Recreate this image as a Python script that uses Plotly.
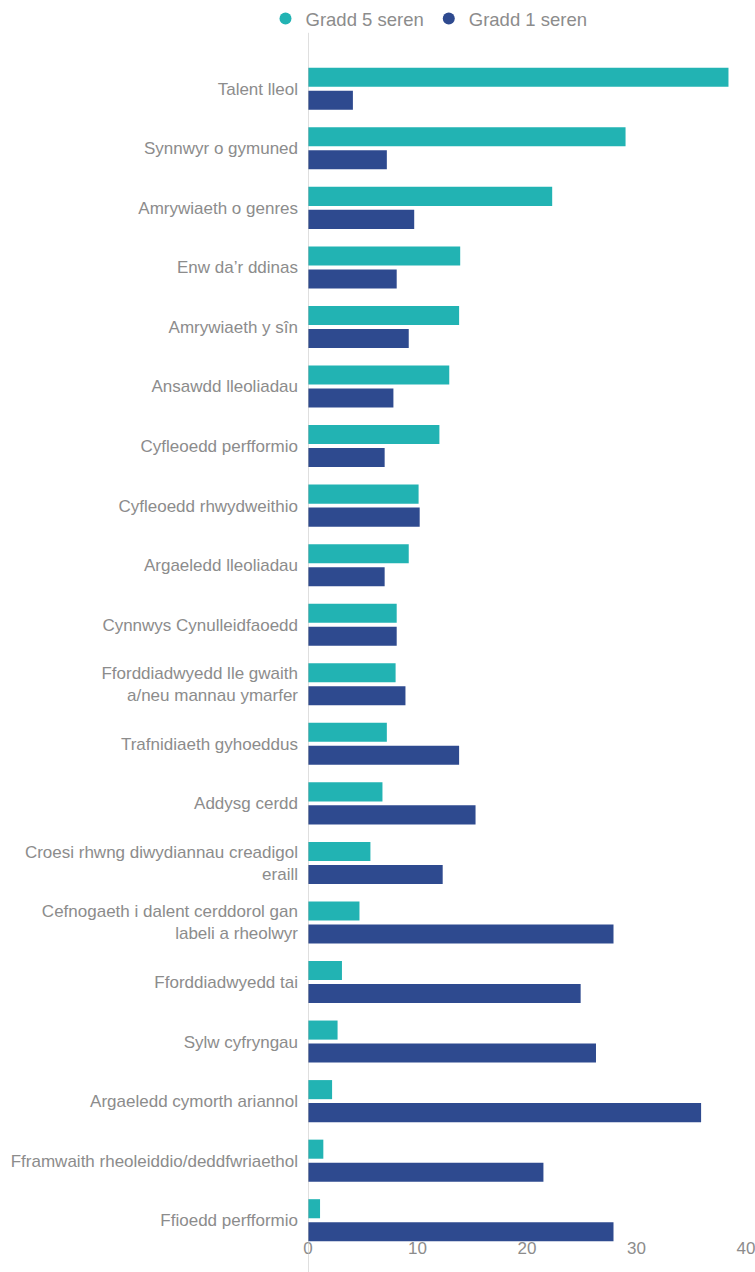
import plotly.graph_objects as go

# Categories (top to bottom)
categories = [
    "Talent lleol",
    "Synnwyr o gymuned",
    "Amrywiaeth o genres",
    "Enw da’r ddinas",
    "Amrywiaeth y sîn",
    "Ansawdd lleoliadau",
    "Cyfleoedd perfformio",
    "Cyfleoedd rhwydweithio",
    "Argaeledd lleoliadau",
    "Cynnwys Cynulleidfaoedd",
    "Fforddiadwyedd lle gwaith<br>a/neu mannau ymarfer",
    "Trafnidiaeth gyhoeddus",
    "Addysg cerdd",
    "Croesi rhwng diwydiannau creadigol<br>eraill",
    "Cefnogaeth i dalent cerddorol gan<br>labeli a rheolwyr",
    "Fforddiadwyedd tai",
    "Sylw cyfryngau",
    "Argaeledd cymorth ariannol",
    "Fframwaith rheoleiddio/deddfwriaethol",
    "Ffioedd perfformio",
]

# Values (%)
five_star = [38.4, 29.0, 22.3, 13.9, 13.8, 12.9, 12.0, 10.1, 9.2, 8.1,
             8.0, 7.2, 6.8, 5.7, 4.7, 3.1, 2.7, 2.2, 1.4, 1.1]
one_star = [4.1, 7.2, 9.7, 8.1, 9.2, 7.8, 7.0, 10.2, 7.0, 8.1,
            8.9, 13.8, 15.3, 12.3, 27.9, 24.9, 26.3, 35.9, 21.5, 27.9]

x_ticks = [0, 10, 20, 30, 40]

TEAL = '#22b3b3'
BLUE = '#2e4a8f'
GREY = '#8c8c8c'
FONT = 'Liberation Sans, Arial, sans-serif'

W, H = 755, 1272

fig = go.Figure()

fig.add_trace(go.Bar(
    name='Gradd 5 seren',
    y=categories,
    x=five_star,
    orientation='h',
    marker=dict(color=TEAL, line=dict(width=0)),
    showlegend=False,
))

fig.add_trace(go.Bar(
    name='Gradd 1 seren',
    y=categories,
    x=one_star,
    orientation='h',
    marker=dict(color=BLUE, line=dict(width=0)),
    showlegend=False,
))

# round legend markers
for name, color in [('Gradd 5 seren', TEAL), ('Gradd 1 seren', BLUE)]:
    fig.add_trace(go.Scatter(
        x=[None], y=[None],
        mode='markers',
        name=name,
        marker=dict(color=color, size=15, symbol='circle'),
        showlegend=True,
    ))

# vertical axis line running past the plot area
fig.add_shape(
    type='line', xref='x', yref='paper',
    x0=0, x1=0, y0=-0.03, y1=1.022,
    line=dict(color='#bfbfbf', width=1),
)

fig.update_layout(
    width=W,
    height=H,
    margin=dict(l=308, r=9, t=59, b=22, autoexpand=False),
    paper_bgcolor='white',
    plot_bgcolor='white',
    font=dict(family=FONT, color=GREY, size=17),
    barmode='group',
    bargap=0.228,
    bargroupgap=0.17,
    legend=dict(
        orientation='h',
        xref='container',
        yref='container',
        x=429 / W,
        xanchor='center',
        y=1 - 19 / H,
        yanchor='middle',
        font=dict(size=18.5, color=GREY),
        itemsizing='constant',
        itemwidth=30,
        tracegroupgap=0,
        bgcolor='rgba(0,0,0,0)',
    ),
    xaxis=dict(
        range=[0, 40],
        tickvals=x_ticks,
        showgrid=False,
        zeroline=False,
        showline=False,
        ticks='',
        tickfont=dict(size=17, color=GREY),
        ticklabelstandoff=-14,
        ticklabeloverflow='allow',
        automargin=False,
    ),
    yaxis=dict(
        autorange='reversed',
        showgrid=False,
        zeroline=False,
        showline=False,
        ticks='',
        tickfont=dict(size=17, color=GREY),
        ticklabelstandoff=9,
        automargin=False,
    ),
)

# drop the default page margin so the figure fills the window exactly
fig.write_html(
    "out.html",
    config={'displayModeBar': False},
    post_script="document.body.style.margin='0';document.body.style.overflow='hidden';",
)
